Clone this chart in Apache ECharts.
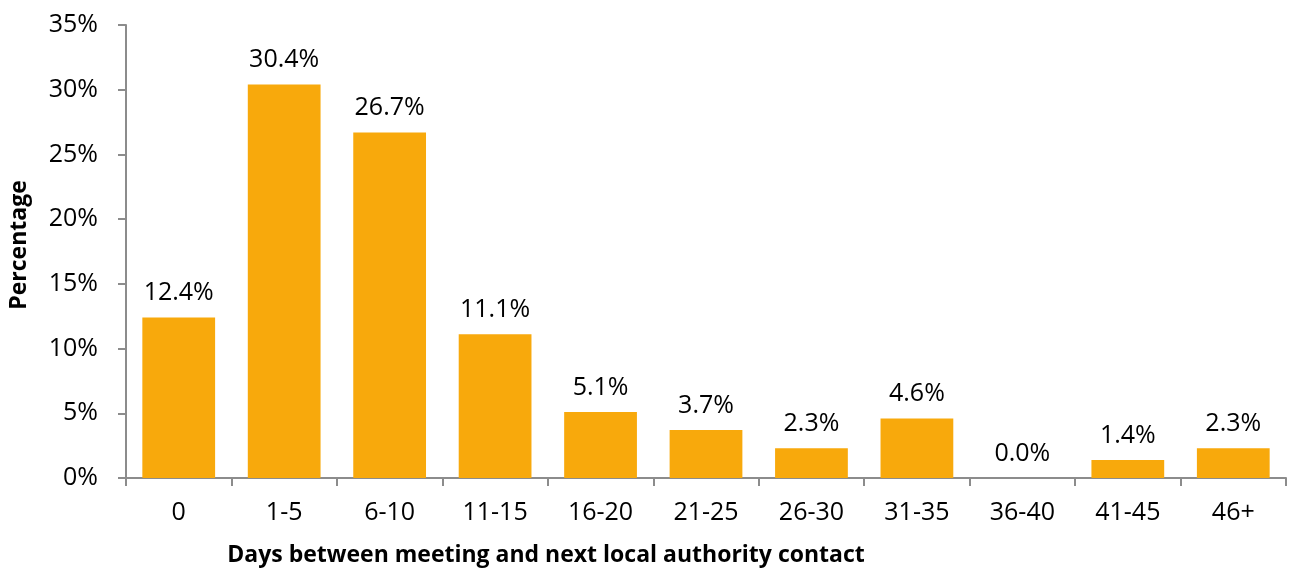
<!DOCTYPE html>
<html>
<head>
<meta charset="utf-8">
<script src="https://cdn.jsdelivr.net/npm/echarts@6/dist/echarts.min.js"></script>
<style>
  html, body { margin: 0; padding: 0; background: #fff; }
  #chart { width: 1290px; height: 569px; }
</style>
</head>
<body>
<div id="chart"></div>
<script>
// Days-between buckets and the share of cases in each
const categories = ['0', '1-5', '6-10', '11-15', '16-20', '21-25', '26-30', '31-35', '36-40', '41-45', '46+'];
const percentages = [12.4, 30.4, 26.7, 11.1, 5.1, 3.7, 2.3, 4.6, 0.0, 1.4, 2.3];
const yTicks = { min: 0, max: 35, step: 5 };

const FONT = '"Open Sans", sans-serif';
const AXIS_GREY = '#8c8c8c';

const chart = echarts.init(document.getElementById('chart'), null, { renderer: 'canvas' });

chart.setOption({
  animation: false,
  grid: { left: 126, right: 4, top: 25, bottom: 91, containLabel: false },
  xAxis: {
    type: 'category',
    data: categories,
    axisLine: { lineStyle: { color: AXIS_GREY, width: 2 } },
    axisTick: { show: true, length: 8, alignWithLabel: false, lineStyle: { color: AXIS_GREY, width: 2 } },
    axisLabel: { color: '#000', fontSize: 25, fontFamily: FONT, margin: 22 }
  },
  yAxis: {
    type: 'value',
    min: yTicks.min,
    max: yTicks.max,
    interval: yTicks.step,
    splitLine: { show: false },
    axisLine: { show: true, lineStyle: { color: AXIS_GREY, width: 2 } },
    axisTick: { show: true, length: 8, lineStyle: { color: AXIS_GREY, width: 2 } },
    axisLabel: {
      color: '#000', fontSize: 25, fontFamily: FONT, margin: 28,
      formatter: v => v + '%'
    }
  },
  graphic: [{
    // x-axis title
    type: 'text',
    x: 546,
    y: 555,
    style: {
      text: 'Days between meeting and next local authority contact',
      fill: '#000',
      font: 'bold 23px ' + FONT,
      textAlign: 'center',
      textVerticalAlign: 'middle'
    }
  }, {
    // y-axis title, rotated to read bottom-up
    type: 'text',
    x: 19,
    y: 245,
    rotation: Math.PI / 2,
    style: {
      text: 'Percentage',
      fill: '#000',
      font: 'bold 23px ' + FONT,
      textAlign: 'center',
      textVerticalAlign: 'middle'
    }
  }],
  series: [{
    type: 'bar',
    data: percentages,
    barCategoryGap: '31%',
    itemStyle: { color: '#F8A90C' },
    label: {
      show: true,
      position: 'top',
      distance: 12,
      color: '#000',
      fontSize: 25,
      fontFamily: FONT,
      formatter: p => p.value.toFixed(1) + '%'
    }
  }]
});
</script>
</body>
</html>
